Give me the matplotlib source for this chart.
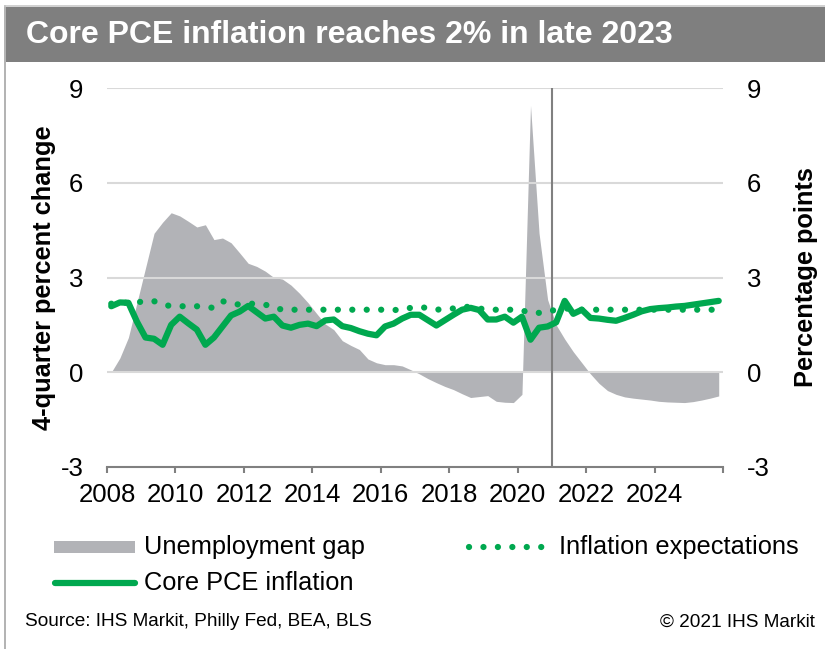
import numpy as np
import matplotlib
matplotlib.use("Agg")
import matplotlib.pyplot as plt
from matplotlib.lines import Line2D
from matplotlib.patches import Rectangle

plt.rcParams['font.family'] = ['Liberation Sans', 'DejaVu Sans']
plt.rcParams['axes.unicode_minus'] = False

# quarterly data, 2008Q1 - 2025Q4
years = np.repeat(np.arange(2008, 2026), 4)
quarter = np.tile([1, 2, 3, 4], 18)

unemployment_gap = [
    0.0, 0.45, 1.1, 2.2,
    3.3, 4.4, 4.75, 5.05,
    4.95, 4.78, 4.6, 4.67,
    4.2, 4.25, 4.1, 3.78,
    3.45, 3.35, 3.2, 3.0,
    2.95, 2.76, 2.5, 2.2,
    1.86, 1.53, 1.35, 1.0,
    0.85, 0.72, 0.42, 0.3,
    0.24, 0.24, 0.2, 0.08,
    -0.05, -0.2, -0.33, -0.45,
    -0.55, -0.68, -0.8, -0.77,
    -0.74, -0.92, -0.95, -0.96,
    -0.7, 8.45, 4.4, 2.3,
    1.5, 1.05, 0.65, 0.3,
    -0.05, -0.35, -0.58, -0.7,
    -0.78, -0.82, -0.85, -0.88,
    -0.92, -0.94, -0.95, -0.96,
    -0.93, -0.88, -0.82, -0.75,
]

core_pce = [
    2.09, 2.21, 2.2, 1.6,
    1.1, 1.06, 0.87, 1.5,
    1.76, 1.55, 1.35, 0.87,
    1.1, 1.45, 1.8, 1.92,
    2.1, 1.9, 1.7, 1.76,
    1.48, 1.41, 1.5, 1.54,
    1.46, 1.64, 1.67, 1.46,
    1.4, 1.3, 1.22, 1.17,
    1.45, 1.54, 1.7, 1.82,
    1.82, 1.65, 1.48, 1.65,
    1.82, 1.98, 2.04, 1.97,
    1.67, 1.67, 1.76, 1.57,
    1.76, 1.03, 1.41, 1.45,
    1.58, 2.26, 1.85, 1.98,
    1.72, 1.7, 1.66, 1.63,
    1.72, 1.82, 1.93, 2.0,
    2.03, 2.05, 2.08, 2.1,
    2.14, 2.18, 2.22, 2.26,
]

inflation_expectations = [
    2.17, 2.2, 2.2, 2.22,
    2.24, 2.25, 2.15, 2.09,
    2.09, 2.09, 2.09, 2.06,
    2.04, 2.25, 2.18, 2.14,
    2.17, 2.17, 2.14, 2.05,
    1.98, 1.98, 1.98, 1.98,
    1.98, 1.98, 1.98, 1.98,
    1.98, 1.98, 1.98, 1.98,
    1.98, 1.97, 1.98, 2.04,
    2.07, 2.03, 1.98, 2.0,
    2.02, 2.07, 2.07, 2.02,
    1.98, 1.98, 1.98, 1.98,
    1.95, 1.9, 1.88, 1.92,
    1.98, 2.02, 2.0, 1.98,
    1.98, 1.98, 1.98, 1.98,
    1.98, 1.98, 1.98, 1.98,
    1.98, 1.98, 1.98, 1.98,
    1.98, 1.98, 1.98, 1.98,
]

xtick_years = [2008, 2010, 2012, 2014, 2016, 2018, 2020, 2022, 2024, 2026]
xtick_labels = ['2008', '2010', '2012', '2014', '2016', '2018', '2020', '2022', '2024', '']
yticks = [-3, 0, 3, 6, 9]
marker_year = 2021

GREEN = '#00a84f'
AREA = '#b2b3b7'
AXIS_GRAY = '#808080'
DOTS = (0, (0.01, 2.3))

# plot points sit mid-quarter
x = years + (quarter - 0.5) / 4

W, H = 825, 649
fig = plt.figure(figsize=(W / 100, H / 100), dpi=100)


def fx(px):
    return px / W


def fy(py):
    return 1 - py / H


# outer frame and title bar
fig.add_artist(Line2D([fx(5), fx(5)], [fy(6), 0], color='#a6a6a6', lw=1.2))
fig.add_artist(Line2D([fx(5), 1], [fy(6), fy(6)], color='#c8c8c8', lw=1.2))
fig.add_artist(Rectangle((fx(5.5), fy(62)), 1, fy(7) - fy(62),
                         transform=fig.transFigure, color='#7f7f7f', lw=0))
fig.text(fx(26), fy(35), 'Core PCE inflation reaches 2% in late 2023',
         color='white', fontsize=23, fontweight='bold', va='center', ha='left')

ax = fig.add_axes([fx(107), fy(467), fx(723) - fx(107), fy(88) - fy(467)])
ax.set_xlim(2008, 2026)
ax.set_ylim(-3, 9)

ax.fill_between(x, 0, unemployment_gap, color=AREA, lw=0, zorder=1)
for y in [0, 3, 6, 9]:
    ax.axhline(y, color='#d9d9d9', lw=1.5, zorder=2)
ax.axvline(marker_year, color=AXIS_GRAY, lw=1.5, zorder=3)
ax.plot(x, inflation_expectations, color=GREEN, lw=4.5,
        linestyle=DOTS, dash_capstyle='round', zorder=4)
ax.plot(x, core_pce, color=GREEN, lw=4.5, solid_capstyle='round',
        solid_joinstyle='round', zorder=5)

for side in ['top', 'left', 'right']:
    ax.spines[side].set_visible(False)
ax.spines['bottom'].set_color(AXIS_GRAY)
ax.spines['bottom'].set_linewidth(1.5)

ax.set_xticks(xtick_years)
ax.set_xticklabels(xtick_labels)
ax.set_yticks(yticks)
ax.tick_params(axis='x', direction='out', length=4.5, width=1.5,
               color=AXIS_GRAY, labelsize=18.5, pad=7)
ax.tick_params(axis='y', length=0, labelsize=18.5, pad=17)
ax.set_ylabel('4-quarter percent change', fontsize=18.3, fontweight='bold',
              labelpad=3)

ax2 = ax.twinx()
ax2.set_ylim(-3, 9)
ax2.set_yticks(yticks)
ax2.tick_params(axis='y', length=0, labelsize=18.5, pad=17)
for side in ['top', 'left', 'right', 'bottom']:
    ax2.spines[side].set_visible(False)
ax2.set_ylabel('Percentage points', fontsize=18.3, fontweight='bold',
               labelpad=18)

# legend
fig.add_artist(Rectangle((fx(54), fy(553)), fx(135) - fx(54), fy(541) - fy(553),
                         transform=fig.transFigure, color=AREA, lw=0))
fig.text(fx(144), fy(547), 'Unemployment gap', fontsize=18.3, va='center')
fig.add_artist(Line2D([fx(55), fx(135)], [fy(583), fy(583)], color=GREEN,
                      lw=4.5, solid_capstyle='round'))
fig.text(fx(144), fy(583), 'Core PCE inflation', fontsize=18.3, va='center')
fig.add_artist(Line2D([fx(469), fx(545)], [fy(547), fy(547)], color=GREEN,
                      lw=4.5, linestyle=DOTS, dash_capstyle='round'))
fig.text(fx(559), fy(547), 'Inflation expectations', fontsize=18.3, va='center')

fig.text(fx(25), fy(622), 'Source: IHS Markit, Philly Fed, BEA, BLS',
         fontsize=13.7, va='center')
fig.text(fx(815), fy(622), '\u00a9 2021 IHS Markit', fontsize=13.7,
         va='center', ha='right')

fig.savefig('out.png', dpi=100)
